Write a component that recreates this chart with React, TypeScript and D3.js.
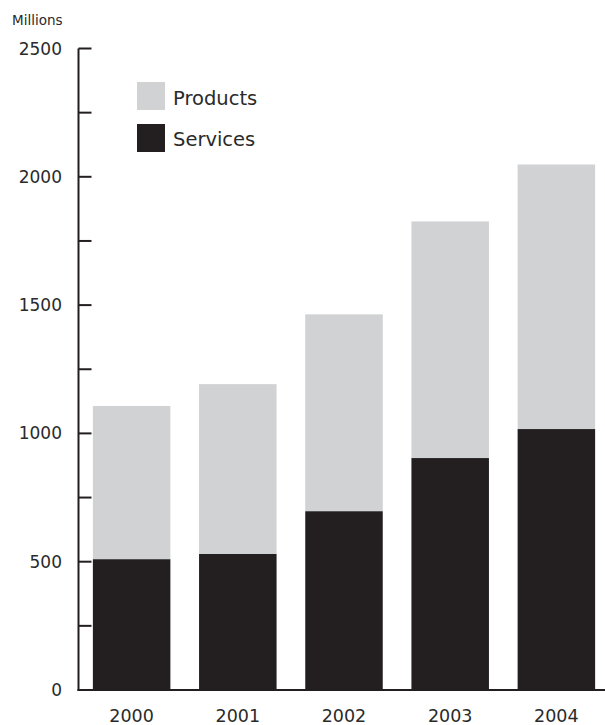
import React from "react";
import * as d3 from "d3";

const years = ["2000", "2001", "2002", "2003", "2004"];
const services = [510, 530, 697, 904, 1017];
const products = [597, 662, 767, 922, 1031];
const majorTicks = [0, 500, 1000, 1500, 2000, 2500];
const minorTicks = [250, 750, 1250, 1750, 2250];

const W = 605, H = 725;
const DARK = "#231f20";
const LIGHT = "#d1d2d4";
const TEXT = "#2a2a2a";
const FONT = "'DejaVu Sans', sans-serif";

export default function App() {
  const y = d3.scaleLinear().domain([0, 2500]).range([690, 48.5]);
  const x = d3.scaleBand().domain(years).range([86.5, 601.5]).paddingInner(0.27).paddingOuter(0.06);
  const stackData = years.map((yr, i) => ({ year: yr, services: services[i], products: products[i] }));
  const series = d3.stack<any>().keys(["services", "products"])(stackData);
  const colors: Record<string, string> = { services: DARK, products: LIGHT };

  return (
    <svg width={W} height={H} style={{ position: "absolute", left: 0, top: 0, background: "#fff" }}>
      <text x={12} y={25} fontFamily={FONT} fontSize={13.5} fill={TEXT}>Millions</text>
      {series.map((s) => (
        <g key={s.key} fill={colors[s.key]}>
          {s.map((d, i) => (
            <rect key={i} x={x(years[i])} width={x.bandwidth()} y={y(d[1])} height={y(d[0]) - y(d[1])} />
          ))}
        </g>
      ))}
      <line x1={78.5} x2={78.5} y1={y(2500)} y2={y(0) + 1} stroke={DARK} strokeWidth={2} />
      <line x1={77.5} x2={W} y1={y(0)} y2={y(0)} stroke={DARK} strokeWidth={2} />
      {majorTicks.concat(minorTicks).map((t) => (
        <line key={t} x1={78.5} x2={91.5} y1={y(t)} y2={y(t)} stroke={DARK} strokeWidth={2} />
      ))}
      {majorTicks.map((t) => (
        <text key={t} x={62} y={y(t) + 6} textAnchor="end" fontFamily={FONT} fontSize={17} fill={TEXT}>{t}</text>
      ))}
      {years.map((yr) => (
        <text key={yr} x={(x(yr) as number) + x.bandwidth() / 2} y={722} textAnchor="middle" fontFamily={FONT} fontSize={17.5} fill={TEXT}>{yr}</text>
      ))}
      <rect x={137} y={82} width={28} height={28} fill={LIGHT} />
      <rect x={137} y={124} width={28} height={28} fill={DARK} />
      <text x={173} y={105} fontFamily={FONT} fontSize={19.5} fill={TEXT}>Products</text>
      <text x={173} y={146} fontFamily={FONT} fontSize={19.5} fill={TEXT}>Services</text>
    </svg>
  );
}
